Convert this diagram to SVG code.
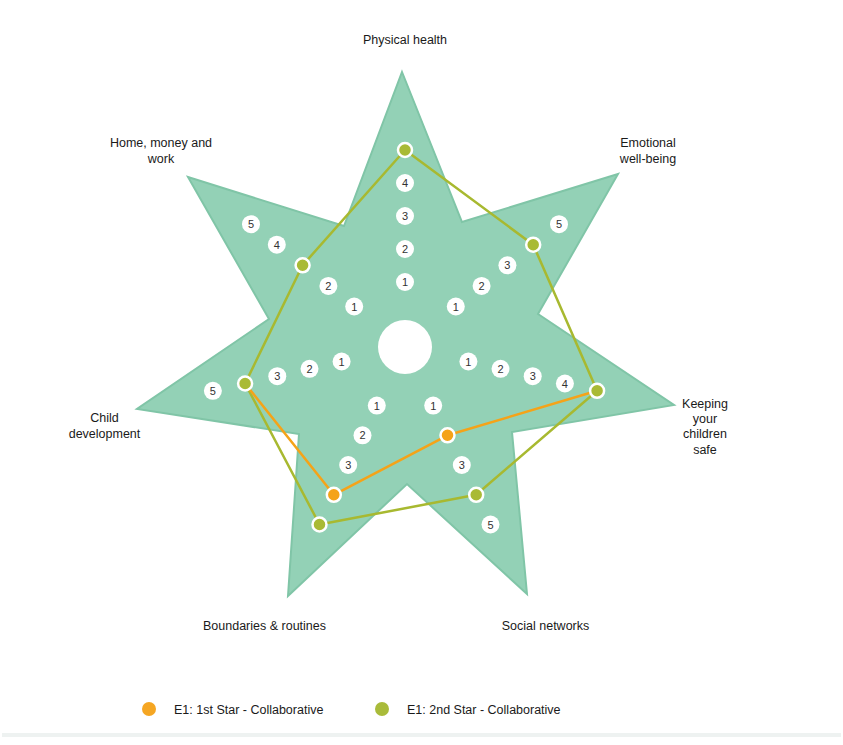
<svg xmlns="http://www.w3.org/2000/svg" width="843" height="745" viewBox="0 0 843 745">
<style>
text{font-family:"Liberation Sans",Arial,sans-serif;fill:#1a1a1a}
.lbl{font-size:12.5px}
.c{text-anchor:middle}
.num circle{fill:#ffffff}
.num text{font-size:11px;text-anchor:middle;fill:#333333}
.dg{fill:#a9ba35;stroke:#ffffff;stroke-width:2.5}
.do{fill:#f5a318;stroke:#ffffff;stroke-width:2.5}
</style>
<rect x="0" y="0" width="843" height="745" fill="#ffffff"/>
<rect x="2" y="733" width="839" height="4" fill="#eef2f1"/>
<g id="star">
<polygon points="402,72 462,222 618,174 538,314 674,405 512,432 527,594 407,484 288,596 299,434 137,409 269,319 188,177 344,226" fill="#93d1b6" stroke="#80c5a7" stroke-width="2" stroke-linejoin="miter"/>
<circle cx="405" cy="347" r="27" fill="#ffffff"/>
</g>
<g id="scale-numbers" class="num">
<g><circle cx="405" cy="282" r="9"/><text x="405" y="286">1</text></g>
<g><circle cx="405" cy="249" r="9"/><text x="405" y="253">2</text></g>
<g><circle cx="405" cy="216" r="9"/><text x="405" y="220">3</text></g>
<g><circle cx="405" cy="183" r="9"/><text x="405" y="187">4</text></g>
<g><circle cx="455.8" cy="306.5" r="9"/><text x="455.8" y="310.5">1</text></g>
<g><circle cx="481.6" cy="285.9" r="9"/><text x="481.6" y="289.9">2</text></g>
<g><circle cx="507.4" cy="265.3" r="9"/><text x="507.4" y="269.3">3</text></g>
<g><circle cx="559" cy="224.2" r="9"/><text x="559" y="228.2">5</text></g>
<g><circle cx="468.4" cy="361.5" r="9"/><text x="468.4" y="365.5">1</text></g>
<g><circle cx="500.5" cy="368.8" r="9"/><text x="500.5" y="372.8">2</text></g>
<g><circle cx="532.7" cy="376.2" r="9"/><text x="532.7" y="380.2">3</text></g>
<g><circle cx="564.9" cy="383.5" r="9"/><text x="564.9" y="387.5">4</text></g>
<g><circle cx="433.2" cy="405.6" r="9"/><text x="433.2" y="409.6">1</text></g>
<g><circle cx="461.8" cy="465" r="9"/><text x="461.8" y="469">3</text></g>
<g><circle cx="490.5" cy="524.5" r="9"/><text x="490.5" y="528.5">5</text></g>
<g><circle cx="376.8" cy="405.6" r="9"/><text x="376.8" y="409.6">1</text></g>
<g><circle cx="362.5" cy="435.3" r="9"/><text x="362.5" y="439.3">2</text></g>
<g><circle cx="348.2" cy="465" r="9"/><text x="348.2" y="469">3</text></g>
<g><circle cx="341.6" cy="361.5" r="9"/><text x="341.6" y="365.5">1</text></g>
<g><circle cx="309.5" cy="368.8" r="9"/><text x="309.5" y="372.8">2</text></g>
<g><circle cx="277.3" cy="376.2" r="9"/><text x="277.3" y="380.2">3</text></g>
<g><circle cx="212.9" cy="390.8" r="9"/><text x="212.9" y="394.8">5</text></g>
<g><circle cx="354.2" cy="306.5" r="9"/><text x="354.2" y="310.5">1</text></g>
<g><circle cx="328.4" cy="285.9" r="9"/><text x="328.4" y="289.9">2</text></g>
<g><circle cx="276.8" cy="244.7" r="9"/><text x="276.8" y="248.7">4</text></g>
<g><circle cx="251" cy="224.2" r="9"/><text x="251" y="228.2">5</text></g>
</g>
<g id="connectors" fill="none" stroke-width="2.5" stroke-linejoin="round">
<polygon id="series-2nd" points="405,150 533.2,244.7 597.1,390.8 476.2,494.8 319.5,524.5 245.1,383.5 302.6,265.3" stroke="#a8b930"/>
<polyline id="series-1st" points="245.1,383.5 333.8,494.8 447.5,435.3 597.1,390.8" stroke="#f5a318"/>
</g>
<g id="points-1st">
<circle class="do" cx="333.8" cy="494.8" r="7"/>
<circle class="do" cx="447.5" cy="435.3" r="7"/>
</g>
<g id="points-2nd">
<circle class="dg" cx="405" cy="150" r="7"/>
<circle class="dg" cx="533.2" cy="244.7" r="7"/>
<circle class="dg" cx="597.1" cy="390.8" r="7"/>
<circle class="dg" cx="476.2" cy="494.8" r="7"/>
<circle class="dg" cx="319.5" cy="524.5" r="7"/>
<circle class="dg" cx="245.1" cy="383.5" r="7"/>
<circle class="dg" cx="302.6" cy="265.3" r="7"/>
</g>
<g id="label-physical"><text class="lbl c" x="405" y="44">Physical health</text></g>
<g id="label-emotional"><text class="lbl c" x="648" y="147">Emotional</text><text class="lbl c" x="648" y="162.5">well-being</text></g>
<g id="label-safe"><text class="lbl c" x="705" y="407.5">Keeping</text><text class="lbl c" x="705" y="422.5">your</text><text class="lbl c" x="705" y="438">children</text><text class="lbl c" x="705" y="453.5">safe</text></g>
<g id="label-social"><text class="lbl c" x="545.5" y="630">Social networks</text></g>
<g id="label-boundaries"><text class="lbl c" x="264.5" y="630">Boundaries &amp; routines</text></g>
<g id="label-child"><text class="lbl c" x="104.5" y="422">Child</text><text class="lbl c" x="104.5" y="437.5">development</text></g>
<g id="label-home"><text class="lbl c" x="161" y="147">Home, money and</text><text class="lbl c" x="161" y="162.5">work</text></g>
<g id="legend">
<circle cx="149" cy="709" r="7" fill="#f5a623"/>
<text class="lbl" x="174" y="713.5">E1: 1st Star - Collaborative</text>
<circle cx="382" cy="709" r="7" fill="#a9bb3a"/>
<text class="lbl" x="407" y="713.5">E1: 2nd Star - Collaborative</text>
</g>
</svg>
